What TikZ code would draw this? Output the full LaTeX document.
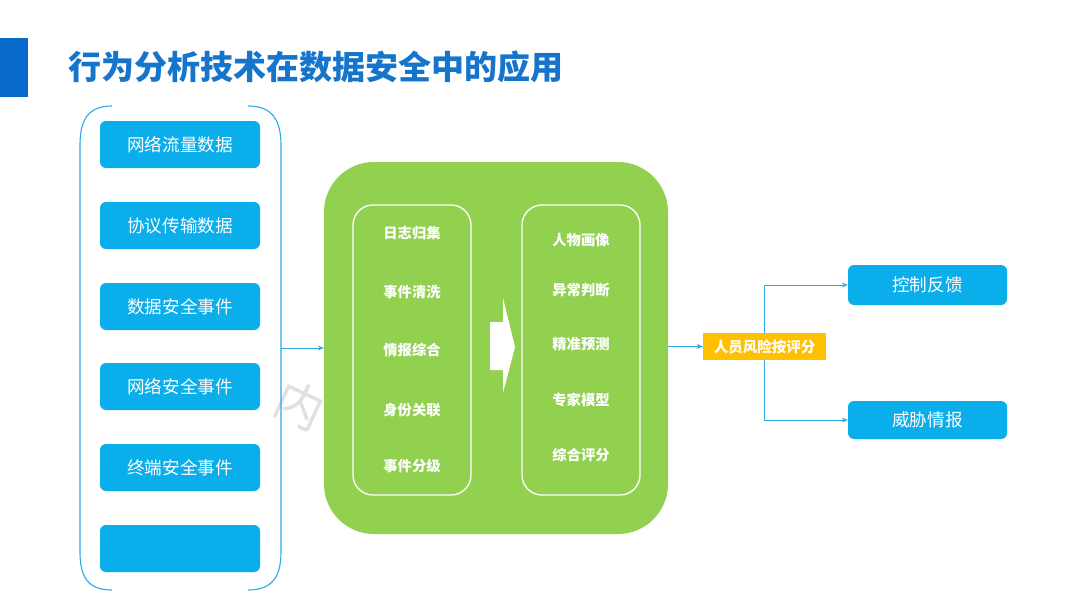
\documentclass[tikz,border=0pt]{standalone}
\usepackage{fontspec}
\setmainfont{Noto Sans CJK SC}
\newfontfamily\cjk{Noto Sans CJK SC}
\usetikzlibrary{arrows.meta}
\definecolor{titleblue}{HTML}{0A6ACB}
\definecolor{titletext}{HTML}{1574CC}
\definecolor{boxblue}{HTML}{0AAEEA}
\definecolor{lineblue}{HTML}{2BA8E6}
\definecolor{leafgreen}{HTML}{92D050}
\definecolor{gold}{HTML}{FFC000}
\tikzset{
  x=1pt, y=-1pt,
  srcbox/.style={fill=boxblue, rounded corners=6pt, text=white, font=\fontsize{17.6}{17.6}\selectfont, inner sep=0pt},
  inbox/.style={draw=white, line width=1.3pt, rounded corners=20pt},
  item/.style={text=white, font=\bfseries\fontsize{14.3}{14.3}\selectfont},
  conn/.style={draw=lineblue, line width=1pt, -{Stealth[length=6pt,width=5pt]}},
  bracket/.style={draw=lineblue, line width=1.1pt},
}
\begin{document}
\begin{tikzpicture}
\useasboundingbox (0,0) rectangle (1080,608);
\fill[white] (0,0) rectangle (1080,608);
% title
\fill[titleblue] (0,38) rectangle (28,97);
\node[anchor=west, text=titletext, font=\bfseries\fontsize{33}{33}\selectfont, inner sep=0pt] (title) at (68,67) {行为分析技术在数据安全中的应用};
% watermark
\node[text=black!12, font=\fontsize{48}{48}\selectfont, rotate=-25] (wm) at (300,405) {内};
% brackets
\draw[bracket] (112,106) .. controls (88,106) and (80,120) .. (80,145) -- (80,552) .. controls (80,577) and (88,590) .. (112,590);
\draw[bracket] (248,106) .. controls (272,106) and (281,120) .. (281,145) -- (281,552) .. controls (281,577) and (272,590) .. (248,590);
\coordinate (bout) at (281,348);
% source boxes
\node[srcbox, minimum width=160pt, minimum height=47pt] (s1) at (180,144.5) {网络流量数据};
\node[srcbox, minimum width=160pt, minimum height=47pt] (s2) at (180,225.5) {协议传输数据};
\node[srcbox, minimum width=160pt, minimum height=47pt] (s3) at (180,306.5) {数据安全事件};
\node[srcbox, minimum width=160pt, minimum height=47pt] (s4) at (180,386.5) {网络安全事件};
\node[srcbox, minimum width=160pt, minimum height=47pt] (s5) at (180,467.5) {终端安全事件};
\node[srcbox, minimum width=160pt, minimum height=47pt] (s6) at (180,548.5) {};
% green block
\node[fill=leafgreen, rounded corners=50pt, minimum width=344pt, minimum height=372pt, inner sep=0pt] (green) at (496,348) {};
\node[inbox, minimum width=118pt, minimum height=290pt, inner sep=0pt] (left) at (412,350) {};
\node[inbox, minimum width=118pt, minimum height=290pt, inner sep=0pt] (right) at (581,350) {};
\node[item] (l1) at (412,233) {日志归集};
\node[item] (l2) at (412,292) {事件清洗};
\node[item] (l3) at (412,350) {情报综合};
\node[item] (l4) at (412,410) {身份关联};
\node[item] (l5) at (412,466) {事件分级};
\node[item] (r1) at (581,240) {人物画像};
\node[item] (r2) at (581,290) {异常判断};
\node[item] (r3) at (581,344) {精准预测};
\node[item] (r4) at (581,400) {专家模型};
\node[item] (r5) at (581,455) {综合评分};
% white block arrow
\fill[white] (490,322) -- (503,322) -- (503,298) -- (515,347) -- (503,393) -- (503,370) -- (490,370) -- cycle;
% yellow
\node[fill=gold, text=white, font=\bfseries\fontsize{14.5}{14.5}\selectfont, minimum width=123pt, minimum height=27pt, inner sep=0pt] (risk) at (764.5,346.5) {人员风险按评分};
% outputs
\node[srcbox, minimum width=159pt, minimum height=40pt] (o1) at (927.5,285) {控制反馈};
\node[srcbox, minimum width=159pt, minimum height=38pt] (o2) at (927.5,420) {威胁情报};
% connectors
\draw[conn] (bout) -- (green.west |- bout);
\draw[conn] (green.east |- risk) -- (risk.west);
\draw[conn] (risk.north) |- (o1.west);
\draw[conn] (risk.south) |- (o2.west);
\end{tikzpicture}
\end{document}
